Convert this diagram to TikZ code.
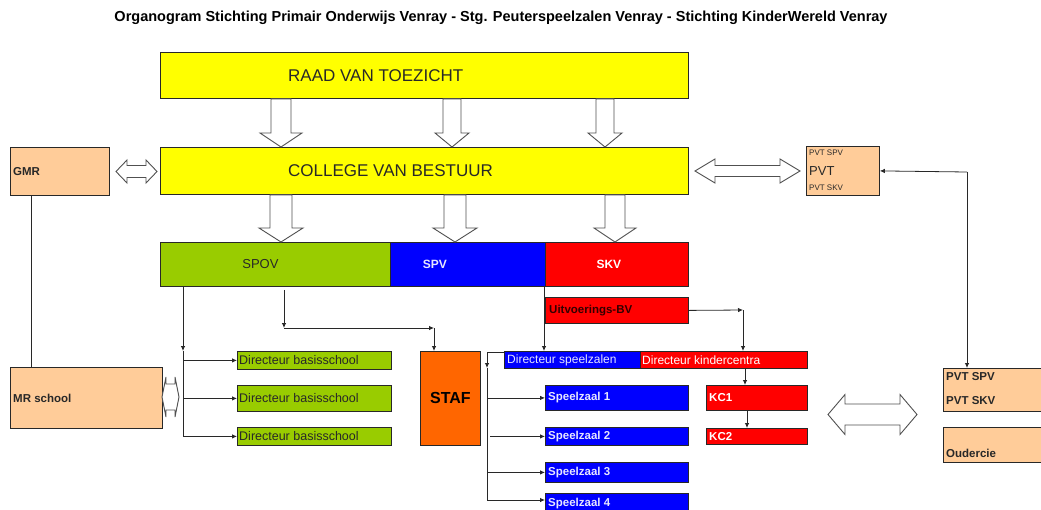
\documentclass[tikz,border=0pt]{standalone}
\usepackage{fontspec}
\setmainfont{Liberation Sans}
\usetikzlibrary{arrows.meta,calc}

\definecolor{geel}{RGB}{255,255,0}
\definecolor{groen}{RGB}{153,204,0}
\definecolor{blauw}{RGB}{0,0,255}
\definecolor{rood}{RGB}{255,0,0}
\definecolor{perzik}{RGB}{255,204,153}
\definecolor{oranje}{RGB}{255,102,0}
\definecolor{lijn}{RGB}{40,40,40}
\definecolor{grijs}{RGB}{80,80,80}
\definecolor{lichtblauw}{RGB}{230,230,255}

\newcommand{\lettergrootte}[1]{\fontsize{#1}{#1}\selectfont}

% blokpijl van #1 naar #2 op hoogte x=#3, halve schacht #4, halve kop #5, koplengte #6
\newcommand{\blokpijl}[6]{%
  \draw[blokrand] let \p1=(#1.south), \p2=(#2.north) in
    ({#3pt-#4pt},\y1) -- ({#3pt+#4pt},\y1) -- ({#3pt+#4pt},\y2+#6pt) -- ({#3pt+#5pt},\y2+#6pt)
    -- (#3pt,\y2) -- ({#3pt-#5pt},\y2+#6pt) -- ({#3pt-#4pt},\y2+#6pt) -- cycle;}

% dubbele blokpijl van x=#1 tot x=#2 op y=#3, halve schacht #4, halve kop #5, koplengte #6
\newcommand{\dubbelblok}[6]{%
  \draw[blokrand] (#1,#3) -- ({#1+#6},{#3-#5}) -- ({#1+#6},{#3-#4}) -- ({#2-#6},{#3-#4})
    -- ({#2-#6},{#3-#5}) -- (#2,#3) -- ({#2-#6},{#3+#5}) -- ({#2-#6},{#3+#4})
    -- ({#1+#6},{#3+#4}) -- ({#1+#6},{#3+#5}) -- cycle;}

\tikzset{
  vak/.style={draw=lijn, line width=.8pt, anchor=north west, inner sep=0pt},
  tekst/.style={anchor=west, inner sep=0pt, text=lijn},
  pijl/.style={draw=lijn, line width=.8pt, -{Latex[length=5pt,width=4.5pt]}},
  lijnstuk/.style={draw=lijn, line width=.8pt},
  blokrand/.style={draw=grijs, fill=white, line width=.9pt, line join=miter}
}

\begin{document}
\begin{tikzpicture}[x=1pt, y=-1pt]

      \clip (0,0) rectangle (1041,509);

      \node (titel) at (501,18) {\bfseries\lettergrootte{14.5}Organogram Stichting Primair Onderwijs Venray - Stg. Peuterspeelzalen Venray - Stichting KinderWereld Venray};

      \begin{scope}[every node/.style={vak}]
        \node[fill=geel, minimum width=528pt, minimum height=46pt] (rvt) at (160,52) {};
        \node[fill=geel, minimum width=528pt, minimum height=47pt] (cvb) at (160,147) {};
        \node[fill=groen, minimum width=230pt, minimum height=44pt] (spov) at (160,242) {};
        \node[fill=blauw, minimum width=155pt, minimum height=44pt] (spv) at (390,242) {};
        \node[fill=rood, minimum width=143pt, minimum height=44pt] (skv) at (545,242) {};
        \node[fill=perzik, minimum width=99pt, minimum height=48pt] (gmr) at (10,147) {};
        \node[fill=perzik, minimum width=73pt, minimum height=49pt] (pvt) at (806,146) {};
        \node[fill=perzik, minimum width=152pt, minimum height=61pt] (mr) at (10,367) {};
        \node[fill=groen, minimum width=154pt, minimum height=18pt] (dir1) at (237,351) {};
        \node[fill=groen, minimum width=154pt, minimum height=26pt] (dir2) at (237,385) {};
        \node[fill=groen, minimum width=154pt, minimum height=18pt] (dir3) at (237,427) {};
        \node[fill=oranje, minimum width=60pt, minimum height=94pt] (staf) at (420,351) {};
        \node[fill=rood, minimum width=143pt, minimum height=26pt] (uitv) at (545,297) {};
        \node[fill=blauw, minimum width=136pt, minimum height=17pt] (dsz) at (504,351) {};
        \node[fill=rood, minimum width=167pt, minimum height=17pt] (dkc) at (640,351) {};
        \node[fill=blauw, minimum width=143pt, minimum height=25pt] (sz1) at (545,385) {};
        \node[fill=blauw, minimum width=143pt, minimum height=18pt] (sz2) at (545,427) {};
        \node[fill=blauw, minimum width=143pt, minimum height=20pt] (sz3) at (545,462) {};
        \node[fill=blauw, minimum width=143pt, minimum height=20pt] (sz4) at (545,493) {};
        \node[fill=rood, minimum width=101pt, minimum height=25pt] (kc1) at (706,385) {};
        \node[fill=rood, minimum width=101pt, minimum height=16pt] (kc2) at (706,428) {};
        \node[fill=perzik, minimum width=110pt, minimum height=43pt] (pvtb) at (943,368) {};
        \node[fill=perzik, minimum width=110pt, minimum height=35pt] (ouder) at (943,427) {};
      \end{scope}

      \begin{scope}[every node/.style={tekst}]
        \node[font=\lettergrootte{17}] (rvttekst) at ([xshift=128pt]rvt.west) {RAAD VAN TOEZICHT};
        \node[font=\lettergrootte{17}] (cvbtekst) at ([xshift=128pt]cvb.west) {COLLEGE VAN BESTUUR};
        \node[font=\lettergrootte{13}, anchor=center] (spovtekst) at ([xshift=-15pt]spov.center) {SPOV};
        \node[font=\bfseries\lettergrootte{12}, anchor=center, text=lichtblauw] (spvtekst) at ([xshift=-33pt]spv.center) {SPV};
        \node[font=\bfseries\lettergrootte{12}, anchor=center, text=white] (skvtekst) at ([xshift=-8pt]skv.center) {SKV};
        \node[font=\bfseries\lettergrootte{11.5}] (gmrtekst) at ([xshift=3pt]gmr.west) {GMR};
        \node[font=\lettergrootte{8}] (pvttekst1) at ([xshift=3pt,yshift=-7pt]pvt.north west) {PVT SPV};
        \node[font=\lettergrootte{13}] (pvttekst) at ([xshift=3pt]pvt.west) {PVT};
        \node[font=\lettergrootte{8}] (pvttekst2) at ([xshift=3pt,yshift=8pt]pvt.south west) {PVT SKV};
        \node[font=\bfseries\lettergrootte{11.5}] (mrtekst) at ([xshift=3pt]mr.west) {MR school};
        \node[font=\lettergrootte{12.5}] (dirtekst1) at ([xshift=2pt]dir1.west) {Directeur basisschool};
        \node[font=\lettergrootte{12.5}] (dirtekst2) at ([xshift=2pt]dir2.west) {Directeur basisschool};
        \node[font=\lettergrootte{12.5}] (dirtekst3) at ([xshift=2pt]dir3.west) {Directeur basisschool};
        \node[font=\bfseries\lettergrootte{16}, anchor=center, text=black] (staftekst) at (staf.center) {STAF};
        \node[font=\bfseries\lettergrootte{11.5}, text=black!80!red] (uitvtekst) at ([xshift=4pt]uitv.west) {Uitvoerings-BV};
        \node[font=\lettergrootte{12}, text=lichtblauw] (dsztekst) at ([xshift=3pt]dsz.west) {Directeur speelzalen};
        \node[font=\lettergrootte{12}, text=white] (dkctekst) at ([xshift=2pt]dkc.west) {Directeur kindercentra};
        \node[font=\bfseries\lettergrootte{11.5}, text=lichtblauw] (sztekst1) at ([xshift=3pt]sz1.west) {Speelzaal 1};
        \node[font=\bfseries\lettergrootte{11.5}, text=lichtblauw] (sztekst2) at ([xshift=3pt]sz2.west) {Speelzaal 2};
        \node[font=\bfseries\lettergrootte{11.5}, text=lichtblauw] (sztekst3) at ([xshift=3pt]sz3.west) {Speelzaal 3};
        \node[font=\bfseries\lettergrootte{11.5}, text=lichtblauw] (sztekst4) at ([xshift=3pt]sz4.west) {Speelzaal 4};
        \node[font=\bfseries\lettergrootte{11.5}, text=white] (kctekst1) at ([xshift=3pt]kc1.west) {KC1};
        \node[font=\bfseries\lettergrootte{11.5}, text=white] (kctekst2) at ([xshift=3pt]kc2.west) {KC2};
        \node[font=\bfseries\lettergrootte{11.5}] (pvtbtekst1) at ([xshift=3pt,yshift=-9pt]pvtb.north west) {PVT SPV};
        \node[font=\bfseries\lettergrootte{11.5}] (pvtbtekst2) at ([xshift=3pt,yshift=11pt]pvtb.south west) {PVT SKV};
        \node[font=\bfseries\lettergrootte{11.5}] (oudertekst) at ([xshift=3pt,yshift=9pt]ouder.south west) {Oudercie};
      \end{scope}

      % blokpijlen
      \blokpijl{rvt}{cvb}{281}{10}{21}{14}
      \blokpijl{rvt}{cvb}{452}{9}{17}{14}
      \blokpijl{rvt}{cvb}{605}{9}{17}{14}
      \blokpijl{cvb}{spov}{281}{11}{22}{14}
      \blokpijl{cvb}{spv}{455}{11}{22}{14}
      \blokpijl{cvb}{skv}{615}{10}{21}{14}

      \dubbelblok{116}{157}{171.5}{6}{11.5}{11}
      \dubbelblok{695}{800}{171}{5.5}{12}{20}
      \dubbelblok{828}{917}{414.5}{10.5}{20}{17}
      \dubbelblok{162}{179}{397}{13}{20}{4}

      % lijnen
      \coordinate (spovtak) at (183,351);
      \coordinate (spoveind) at (183,436);
      \coordinate (hoek1) at (284,328);
      \coordinate (hoek2) at (434,328);
      \coordinate (skvlijn) at (544,286);
      \coordinate (hoek3) at (743,310);
      \coordinate (szhoek) at (487,352);
      \coordinate (sztak) at (487,368);
      \coordinate (szeind) at (487,500);
      \coordinate (pvtknik) at (967,172);

      \path[lijnstuk] ([xshift=21pt]gmr.south west) -- ([xshift=21pt]mr.north west);
      \path[pijl] (spov.south west -| spovtak) -- (spovtak);
      \path[lijnstuk] (spovtak) -- (spoveind);
      \path[pijl] (dir1.west -| spovtak) -- (dir1.west);
      \path[pijl] (dir2.west -| spovtak) -- (dir2.west);
      \path[pijl] (dir3.west -| spovtak) -- (dir3.west);
      \path[pijl] ([yshift=-3pt]spov.south -| hoek1) -- (hoek1);
      \path[pijl] (hoek1) -- (hoek2);
      \path[pijl] (hoek2) -- (staf.north -| hoek2);
      \path[pijl] (skvlijn) -- (dsz.north -| skvlijn);
      \path[pijl] (uitv.east) -- (hoek3);
      \path[pijl] (hoek3) -- (dkc.north -| hoek3);
      \path[pijl] ([xshift=39pt]dkc.south -| kc1.north west) -- ([xshift=39pt]kc1.north west);
      \path[pijl] ([xshift=41pt]kc1.south west) -- ([xshift=41pt]kc2.north west);
      \path[lijnstuk] ([yshift=-1pt]dsz.north west) -- (szhoek);
      \path[pijl] (szhoek) -- (sztak);
      \path[lijnstuk] (sztak) -- (szeind);
      \path[pijl] (sz1.west -| sztak) -- (sz1.west);
      \path[pijl] ([xshift=3pt]sz2.west -| sztak) -- (sz2.west);
      \path[pijl] (sz3.west -| sztak) -- (sz3.west);
      \path[pijl] (szeind) -- (sz4.west |- szeind);
      \path[pijl] (pvtknik) -- (pvt.east);
      \path[pijl] (pvtknik) -- (pvtb.north -| pvtknik);

    \end{tikzpicture}
\end{document}
